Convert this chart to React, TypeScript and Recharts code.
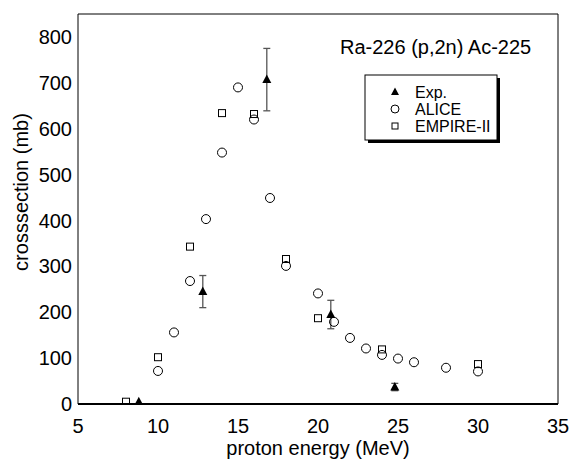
import React from "react";
import { ScatterChart, Scatter, XAxis, YAxis, ErrorBar, Legend } from "recharts";

// Ra-226 (p,2n) Ac-225 excitation function: measurement vs two model codes.
const expEnergy = [8.8, 12.8, 16.8, 20.8, 24.8];
const expXs = [5, 245, 707, 195, 37];
const expErr = [0, 35, 68, 31, 8];

const aliceEnergy = [10, 11, 12, 13, 14, 15, 16, 17, 18, 20, 21, 22, 23, 24, 25, 26, 28, 30];
const aliceXs = [72, 156, 268, 403, 548, 690, 620, 449, 301, 241, 179, 144, 121, 107, 99, 91, 79, 71];

const empireEnergy = [8, 10, 12, 14, 16, 18, 20, 24, 30];
const empireXs = [5, 102, 343, 634, 632, 316, 187, 119, 87];

const energyTicks = [5, 10, 15, 20, 25, 30, 35];
const energyMinor = [5, 6, 7, 8, 9, 10, 11, 12, 13, 14, 15, 16, 17, 18, 19, 20, 21, 22, 23, 24, 25, 26, 27, 28, 29, 30, 31, 32, 33, 34, 35];
const xsTicks = [0, 100, 200, 300, 400, 500, 600, 700, 800];
const xsMinor = [0, 50, 100, 150, 200, 250, 300, 350, 400, 450, 500, 550, 600, 650, 700, 750, 800, 850];

const FONT = "'Liberation Sans', Arial, Helvetica, sans-serif";

const expData = expEnergy.map((x, i) => ({ x, y: expXs[i], err: expErr[i] }));
const aliceData = aliceEnergy.map((x, i) => ({ x, y: aliceXs[i] }));
const empireData = empireEnergy.map((x, i) => ({ x, y: empireXs[i] }));

const Triangle = ({ cx, cy }: any) => (
  <polygon points={`${cx},${cy - 5} ${cx - 4.5},${cy + 3.5} ${cx + 4.5},${cy + 3.5}`} fill="#000" />
);
const Ring = ({ cx, cy }: any) => <circle cx={cx} cy={cy} r={4.5} fill="none" stroke="#000" strokeWidth={1} />;
const Box = ({ cx, cy }: any) => (
  <rect x={cx - 3.5} y={cy - 3.5} width={7} height={7} fill="none" stroke="#000" strokeWidth={1} />
);

function LegendBlock() {
  // drawn in coordinates relative to the wrapper at (330, 30)
  const rows = [
    { label: "Exp.", cy: 62, mark: <polygon points="65,57.5 61,65 69,65" fill="#000" /> },
    { label: "ALICE", cy: 79, mark: <circle cx={65} cy={79} r={4} fill="none" stroke="#000" /> },
    { label: "EMPIRE-II", cy: 96, mark: <rect x={62} y={93} width={6} height={6} fill="none" stroke="#000" /> },
  ];
  return (
    <svg width={230} height={120} style={{ display: "block", overflow: "visible" }}>
      <text x={10} y={24} fontSize={20} fontFamily={FONT} fill="#000">
        Ra-226 (p,2n) Ac-225
      </text>
      <rect x={38} y={48} width={132} height={65} fill="#000" />
      <rect x={35} y={45} width={132} height={65} fill="#fff" stroke="#000" strokeWidth={1} />
      {rows.map((r) => (
        <g key={r.label}>
          {r.mark}
          <text x={85} y={r.cy + 6} fontSize={16} fontFamily={FONT} fill="#000">
            {r.label}
          </text>
        </g>
      ))}
    </svg>
  );
}

const tickStyle = { fontSize: 20, fill: "#000", fontFamily: FONT };

export default function App() {
  return (
    <div style={{ position: "absolute", left: 0, top: 0, background: "#fff" }}>
      <ScatterChart width={570} height={465} margin={{ top: 14, right: 12, bottom: 0, left: 0 }}>
        <XAxis
          xAxisId="b"
          dataKey="x"
          type="number"
          domain={[5, 35]}
          allowDataOverflow
          ticks={energyTicks}
          tickLine={false}
          tickSize={0}
          tickMargin={15}
          height={61}
          axisLine={{ stroke: "#000", strokeWidth: 2 }}
          tick={tickStyle}
          label={{
            content: () => (
              <text x={318} y={455} textAnchor="middle" fontSize={20} fontFamily={FONT} fill="#000">
                proton energy (MeV)
              </text>
            ),
          }}
        />
        <XAxis xAxisId="bMaj" type="number" domain={[5, 35]} allowDataOverflow mirror ticks={energyTicks} tick={false} tickSize={7} axisLine={false} tickLine={{ stroke: "#000" }} />
        <XAxis xAxisId="bMin" type="number" domain={[5, 35]} allowDataOverflow mirror ticks={energyMinor} tick={false} tickSize={4} axisLine={false} tickLine={{ stroke: "#000" }} />
        <XAxis xAxisId="tMaj" orientation="top" type="number" domain={[5, 35]} allowDataOverflow mirror ticks={energyTicks} tick={false} tickSize={7} axisLine={{ stroke: "#000" }} tickLine={{ stroke: "#000" }} />
        <XAxis xAxisId="tMin" orientation="top" type="number" domain={[5, 35]} allowDataOverflow mirror ticks={energyMinor} tick={false} tickSize={4} axisLine={false} tickLine={{ stroke: "#000" }} />

        <YAxis
          yAxisId="l"
          dataKey="y"
          type="number"
          domain={[0, 850]}
          allowDataOverflow
          ticks={xsTicks}
          tickLine={false}
          tickSize={0}
          tickMargin={6}
          width={78}
          axisLine={{ stroke: "#000" }}
          tick={tickStyle}
          label={{
            content: () => (
              <text
                x={28}
                y={192}
                transform="rotate(-90 28 192)"
                textAnchor="middle"
                fontSize={20}
                fontFamily={FONT}
                fill="#000"
              >
                crosssection (mb)
              </text>
            ),
          }}
        />
        <YAxis yAxisId="lMaj" type="number" domain={[0, 850]} allowDataOverflow mirror ticks={xsTicks} tick={false} tickSize={7} axisLine={false} tickLine={{ stroke: "#000" }} />
        <YAxis yAxisId="lMin" type="number" domain={[0, 850]} allowDataOverflow mirror ticks={xsMinor} tick={false} tickSize={4} axisLine={false} tickLine={{ stroke: "#000" }} />
        <YAxis yAxisId="rMaj" orientation="right" type="number" domain={[0, 850]} allowDataOverflow mirror ticks={xsTicks} tick={false} tickSize={7} axisLine={{ stroke: "#000" }} tickLine={{ stroke: "#000" }} />
        <YAxis yAxisId="rMin" orientation="right" type="number" domain={[0, 850]} allowDataOverflow mirror ticks={xsMinor} tick={false} tickSize={4} axisLine={false} tickLine={{ stroke: "#000" }} />

        <Scatter name="ALICE" xAxisId="b" yAxisId="l" data={aliceData} shape={Ring} isAnimationActive={false} />
        <Scatter name="EMPIRE-II" xAxisId="b" yAxisId="l" data={empireData} shape={Box} isAnimationActive={false} />
        <Scatter name="Exp." xAxisId="b" yAxisId="l" data={expData} shape={Triangle} isAnimationActive={false}>
          <ErrorBar dataKey="err" direction="y" width={3.5} stroke="#555" strokeWidth={1.3} isAnimationActive={false} />
        </Scatter>

        <Legend
          layout="vertical"
          align="center"
          verticalAlign="middle"
          wrapperStyle={{ left: 330, top: 30, width: 230, height: 120 }}
          content={() => <LegendBlock />}
        />
      </ScatterChart>
    </div>
  );
}
